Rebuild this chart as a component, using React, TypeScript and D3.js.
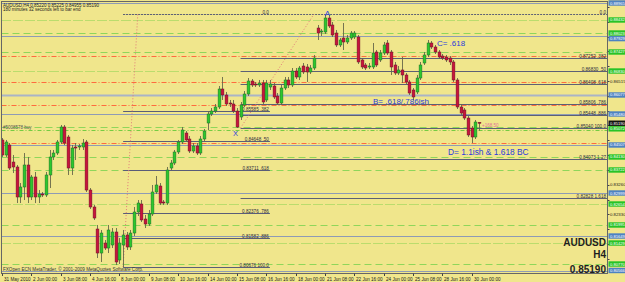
import React from "react";
import * as d3 from "d3";

// ---------- DATA (AUDUSD H4) ----------
const opens = [
  0.84664, 0.84193, 0.84507, 0.83972, 0.83816, 0.82874, 0.83188, 0.83879, 0.82874, 0.83502,
  0.82874, 0.82968, 0.82937, 0.83565, 0.8413, 0.84255, 0.84601, 0.85072, 0.84758, 0.83784,
  0.84444, 0.84444, 0.84444, 0.84601, 0.83093, 0.8256, 0.81869, 0.81115, 0.81429, 0.81272,
  0.81367, 0.81775, 0.80896, 0.81367, 0.81681, 0.81304, 0.81743, 0.82403, 0.82654, 0.82183,
  0.82026, 0.8234, 0.83031, 0.83219, 0.82717, 0.82685, 0.83784, 0.83941, 0.84287, 0.84601,
  0.84883, 0.84695, 0.84318, 0.84475, 0.84255, 0.84695, 0.85197, 0.8548, 0.85574, 0.857,
  0.86265, 0.86077, 0.85825, 0.85794, 0.85574, 0.85386, 0.85763, 0.86108, 0.86516, 0.86422,
  0.86391, 0.86453, 0.8592, 0.86328, 0.86359, 0.86045, 0.85825, 0.86296, 0.86548, 0.86391,
  0.8683, 0.86642, 0.86987, 0.86956, 0.86799, 0.86924, 0.8818, 0.88055, 0.88055, 0.88494,
  0.88275, 0.88023, 0.87647, 0.87866, 0.87741, 0.87866, 0.87898, 0.87898, 0.87176, 0.87019,
  0.86987, 0.86956, 0.87427, 0.87176, 0.87395, 0.87709, 0.87427, 0.87019, 0.86767, 0.86862,
  0.86705, 0.86485, 0.86234, 0.86171, 0.8661, 0.87081, 0.87333, 0.87709, 0.87584, 0.87427,
  0.87301, 0.8727, 0.87238, 0.87113, 0.86548, 0.857, 0.85606, 0.85354, 0.8504, 0.84758,
  0.8522,
];
const highs = [
  0.84726, 0.84664, 0.84569, 0.84193, 0.83879, 0.83313, 0.84255, 0.8413, 0.83565, 0.83659,
  0.83093, 0.83031, 0.83659, 0.8435, 0.8435, 0.84664, 0.85135, 0.85135, 0.84821, 0.84507,
  0.84569, 0.84538, 0.84695, 0.84664, 0.83156, 0.82623, 0.81995, 0.81838, 0.81523, 0.81995,
  0.819, 0.819, 0.81586, 0.81838, 0.81775, 0.81838, 0.8256, 0.82779, 0.82779, 0.82309,
  0.82466, 0.83251, 0.83533, 0.83313, 0.82779, 0.83816, 0.84035, 0.8435, 0.84664, 0.85072,
  0.84946, 0.84789, 0.84569, 0.84569, 0.84789, 0.85009, 0.85574, 0.85668, 0.85794, 0.86359,
  0.86642, 0.86171, 0.8592, 0.8592, 0.85668, 0.85857, 0.86202, 0.8661, 0.86579, 0.86485,
  0.86548, 0.86548, 0.86548, 0.86548, 0.86453, 0.86139, 0.86391, 0.86642, 0.86642, 0.86924,
  0.86924, 0.86987, 0.87081, 0.8705, 0.87019, 0.87333, 0.88275, 0.88149, 0.8862, 0.88589,
  0.88369, 0.88118, 0.87866, 0.88337, 0.87961, 0.88086, 0.88086, 0.87961, 0.87238, 0.87081,
  0.87081, 0.87709, 0.8749, 0.8749, 0.87741, 0.87804, 0.8749, 0.87113, 0.86987, 0.8727,
  0.86767, 0.86548, 0.86296, 0.86705, 0.87113, 0.87427, 0.87804, 0.87772, 0.87647, 0.8749,
  0.87364, 0.87333, 0.87301, 0.87176, 0.8661, 0.85794, 0.85668, 0.85417, 0.85103, 0.85292,
  0.85225,
];
const lows = [
  0.8413, 0.8413, 0.83722, 0.83627, 0.82685, 0.82685, 0.82779, 0.82685, 0.82779, 0.82685,
  0.82685, 0.82874, 0.82874, 0.83156, 0.84035, 0.84193, 0.84538, 0.84507, 0.83565, 0.83565,
  0.84035, 0.8435, 0.8435, 0.83031, 0.82497, 0.82152, 0.80958, 0.80833, 0.8121, 0.81115,
  0.81272, 0.80739, 0.8077, 0.80676, 0.8121, 0.8121, 0.81649, 0.82277, 0.82089, 0.819,
  0.81963, 0.82277, 0.82968, 0.82623, 0.82623, 0.82623, 0.83722, 0.83879, 0.84224, 0.84538,
  0.84601, 0.84255, 0.84255, 0.84193, 0.84193, 0.84632, 0.84978, 0.85417, 0.85511, 0.85637,
  0.8592, 0.85731, 0.857, 0.85511, 0.8504, 0.85292, 0.857, 0.86045, 0.86328, 0.86328,
  0.86328, 0.85794, 0.85857, 0.86234, 0.85951, 0.85763, 0.85763, 0.86234, 0.86296, 0.86328,
  0.86579, 0.86548, 0.86736, 0.86485, 0.86736, 0.86862, 0.87804, 0.87929, 0.87992, 0.8818,
  0.87898, 0.87584, 0.87584, 0.8749, 0.87678, 0.87804, 0.87835, 0.8705, 0.86893, 0.86862,
  0.86893, 0.86893, 0.86956, 0.87113, 0.87333, 0.87333, 0.86705, 0.86705, 0.86705, 0.86453,
  0.86422, 0.86077, 0.8592, 0.86108, 0.86548, 0.87019, 0.8727, 0.87521, 0.87364, 0.87207,
  0.87176, 0.87113, 0.87019, 0.86485, 0.85637, 0.85449, 0.85292, 0.84758, 0.84569, 0.84695,
  0.84955,
];
const closes = [
  0.84193, 0.84601, 0.83784, 0.83816, 0.82874, 0.83188, 0.83879, 0.82874, 0.83502, 0.82874,
  0.82968, 0.82937, 0.83565, 0.8413, 0.84255, 0.84601, 0.85072, 0.84569, 0.83784, 0.84412,
  0.84412, 0.84475, 0.84569, 0.83093, 0.8256, 0.82214, 0.81115, 0.81743, 0.81272, 0.81838,
  0.81775, 0.80833, 0.81429, 0.81681, 0.81304, 0.81743, 0.82403, 0.82685, 0.82152, 0.82026,
  0.8234, 0.83031, 0.83251, 0.82685, 0.82685, 0.83722, 0.83941, 0.84287, 0.84601, 0.84978,
  0.84664, 0.84318, 0.84475, 0.84255, 0.84695, 0.84946, 0.8548, 0.85574, 0.857, 0.86265,
  0.86077, 0.85794, 0.85794, 0.85574, 0.85072, 0.85763, 0.86108, 0.86516, 0.86391, 0.86391,
  0.86453, 0.85857, 0.86453, 0.86422, 0.86014, 0.85825, 0.86296, 0.86548, 0.86391, 0.8683,
  0.86642, 0.86924, 0.86799, 0.86799, 0.86924, 0.87238, 0.88023, 0.88086, 0.88494, 0.88243,
  0.87961, 0.87647, 0.87804, 0.87741, 0.87866, 0.88023, 0.88023, 0.87113, 0.86956, 0.86924,
  0.86987, 0.87395, 0.87019, 0.87395, 0.87647, 0.87395, 0.86956, 0.86767, 0.86862, 0.86705,
  0.86485, 0.86139, 0.86014, 0.8661, 0.87019, 0.87333, 0.87709, 0.87584, 0.87427, 0.8727,
  0.87238, 0.87176, 0.87113, 0.86548, 0.857, 0.85511, 0.85354, 0.84821, 0.84758, 0.85229,
  0.8519,
];

const dateLabels = [
  "31 May 2010", "2 Jun 00:00", "3 Jun 08:00", "4 Jun 16:00", "8 Jun 00:00", "9 Jun 08:00",
  "10 Jun 16:00", "14 Jun 00:00", "15 Jun 08:00", "16 Jun 16:00", "18 Jun 00:00", "21 Jun 08:00",
  "22 Jun 16:00", "24 Jun 00:00", "25 Jun 08:00", "28 Jun 16:00", "30 Jun 00:00",
];
const barsPerDateLabel = 8;

const priceTicks = [
  0.8884, 0.88375, 0.8791, 0.87445, 0.8698, 0.86515, 0.8605, 0.85585, 0.8512,
  0.84655, 0.8419, 0.83725, 0.8326, 0.82795, 0.8233, 0.81865, 0.814, 0.80935,
];

// horizontal level lines (price, kind)
const levelPrices = [
  0.88965, 0.88432, 0.88023, 0.87929, 0.87427, 0.87301, 0.8683, 0.86485, 0.86077, 0.85763,
  0.8548, 0.85072, 0.84978, 0.84569, 0.84507, 0.8413, 0.83722, 0.82999, 0.82654, 0.81995,
  0.81649, 0.81429, 0.8077, 0.80566,
];
const levelKinds = [
  "gray", "dot", "dash", "gray", "dash", "pivot", "dot", "pivot", "grayThick", "pivot",
  "gray", "dash", "order", "pivot", "gray", "dash", "dash", "gray", "dot", "dash",
  "gray", "dot", "dash", "gray",
];

const fibLeftLevels = [0, 0.382, 0.5, 0.618, 0.786, 0.886, 1];
const fibLeftNames = ["0.0", ".382", ".50", ".618", ".786", ".886", "100.0"];
const fibRightLevels = [0, 0.382, 0.5, 0.618, 0.786, 0.886, 1, 1.27, 1.618];
const fibRightNames = ["0.0", ".382", ".50", ".618", ".786", ".886", "100.0", "1.27", "1.618"];
const fibLeftLowBar = 33;
const fibLeftTopBar = 37;
const fibLeftEndBar = 73;
const fibRightLowBar = 64;
const fibRightStartBar = 65;
const fibRightTopBar = 85;

const annotations = [
  { text: "A", bar: 88.7, price: 0.88557, anchor: "middle", size: 8 },
  { text: "X", bar: 63.6, price: 0.84774, anchor: "middle", size: 7.5 },
  { text: "B= .618/.786ish", bar: 101.1, price: 0.85794, anchor: "start", size: 8 },
  { text: "C= .618", bar: 118.5, price: 0.87615, anchor: "start", size: 8 },
  { text: "D= 1.1ish & 1.618 BC", bar: 121.5, price: 0.84193, anchor: "start", size: 8.4 },
];

const headerLine1 = "AUDUSD,H4  0.85220 0.85225 0.84955 0.85190";
const headerLine2 = "180 minutes 32 seconds left to bar end";
const copyright = "FXOpen ECN MetaTrader, © 2001-2009 MetaQuotes Software Corp.";
const orderLabel = "#5008578 buy";
const orderProfit = "+168.50";
const symbolName = "AUDUSD";
const periodName = "H4";
const lastPrice = 0.8519;

// ---------- CHART ----------
const W = 625;
const H = 282;
const FONT = "'Liberation Sans', Arial, sans-serif";
const PL = 1.5, PR = 607.5, PT = 1.5, PB = 273.5;
const BOX_H = 5.4;

const kindStyle: Record<string, { stroke: string; dash?: string; w: number }> = {
  dot: { stroke: "#84d24e", dash: "1 1 1 1 1 1 1 1 1 3", w: 1 },
  dash: { stroke: "#8fd65a", dash: "7 4", w: 1 },
  order: { stroke: "#76cc42", dash: "4 2 1 2", w: 1 },
  pivot: { stroke: "#ff6b3d", dash: "5 2 1 2", w: 1 },
  gray: { stroke: "#8e9bb5", w: 1 },
  grayThick: { stroke: "#aab4c6", w: 2 },
};

export default function App() {
  const n = opens.length;
  const x = d3.scaleLinear().domain([0, n - 1]).range([2, 479.1]);
  const y = d3.scaleLinear().domain([d3.max(highs)!, d3.min(lows)!]).range([14, 267]);

  const A = d3.max(highs)!;
  const leftLow = lows[fibLeftLowBar];
  const rightLow = lows[fibRightLowBar];

  const fmt = (v: number) => v.toFixed(5);

  const boxColor = (k: string) =>
    k === "gray" || k === "grayThick" ? "#4d82c2" : k === "dot" || k === "dash" ? "#27c327" : null;

  // coloured axis boxes, pushed apart so they do not overlap
  const boxes = levelPrices
    .map((p, i) => ({ p, col: boxColor(levelKinds[i]), txt: "#ffffff", yy: y(p) }))
    .filter((b) => b.col !== null) as { p: number; col: string; txt: string; yy: number }[];
  boxes.push({ p: lastPrice, col: "#111111", txt: "#ffffff", yy: y(lastPrice) });
  boxes.sort((a, b) => a.yy - b.yy);
  for (let i = 1; i < boxes.length; i++) {
    if (boxes[i].yy - boxes[i - 1].yy < BOX_H + 0.2) boxes[i].yy = boxes[i - 1].yy + BOX_H + 0.2;
  }
  const visibleTicks = priceTicks.filter((t) => boxes.every((b) => Math.abs(b.yy - y(t)) > 6));

  return (
    <svg
      width={W}
      height={H}
      style={{ position: "absolute", left: 0, top: 0, display: "block" }}
      fontFamily={FONT}
    >
      <defs>
        <clipPath id="plot">
          <rect x={PL} y={PT} width={PR - PL} height={PB - PT} />
        </clipPath>
        <clipPath id="axis">
          <rect x={PR} y={0} width={W - PR} height={H} />
        </clipPath>
      </defs>
      <rect x={0} y={0} width={W} height={H} fill="#f0e68c" />

      <g clipPath="url(#plot)">
        {/* level lines */}
        {levelPrices.map((p, i) => {
          const s = kindStyle[levelKinds[i]];
          const yy = Math.round(y(p)) + 0.5;
          return (
            <line
              key={"lv" + i}
              x1={PL}
              x2={PR}
              y1={yy}
              y2={yy}
              stroke={s.stroke}
              strokeWidth={s.w}
              strokeDasharray={s.dash}
            />
          );
        })}

        {/* left fibonacci */}
        {fibLeftLevels.map((lv, i) => {
          const p = A - lv * (A - leftLow);
          const yy = Math.round(y(p)) + 0.5;
          const x1 = x(fibLeftLowBar);
          const x2 = x(fibLeftEndBar);
          return (
            <g key={"fl" + i}>
              <line x1={x1} x2={x2} y1={yy} y2={yy} stroke="#5a5d78" strokeWidth={1}
                strokeDasharray={lv === 0 ? "2 1" : undefined} />
              <text x={x2 - 1} y={yy - 1} fontSize={4.6} textAnchor="end" fill="#2b2b40">
                {lv === 0 ? fibLeftNames[i] : `${fmt(p)}   ${fibLeftNames[i]}`}
              </text>
            </g>
          );
        })}

        {/* right fibonacci */}
        {fibRightLevels.map((lv, i) => {
          const p = A - lv * (A - rightLow);
          const yy = Math.round(y(p)) + 0.5;
          const x1 = x(fibRightStartBar);
          return (
            <g key={"fr" + i}>
              <line x1={lv === 0 ? x(fibLeftLowBar) : x1} x2={PR} y1={yy} y2={yy}
                stroke="#5d6075" strokeWidth={1} strokeDasharray={lv === 0 ? "2 1" : undefined} />
              <text x={PR - 1.5} y={yy - 1} fontSize={4.6} textAnchor="end" fill="#2b2b40">
                {lv === 0 ? fibRightNames[i] : `${fmt(p)}   ${fibRightNames[i]}`}
              </text>
            </g>
          );
        })}

        {/* fib trend lines */}
        <line x1={x(fibLeftLowBar)} y1={y(leftLow)} x2={x(fibLeftTopBar)} y2={y(A)}
          stroke="#e07a7a" strokeWidth={1} strokeDasharray="1 2" />
        <line x1={x(fibRightStartBar)} y1={y(rightLow)} x2={x(fibRightTopBar)} y2={y(A)}
          stroke="#e07a7a" strokeWidth={1} strokeDasharray="1 2" />

        {/* candles */}
        {opens.map((o, i) => {
          const c = closes[i];
          const cx = Math.round(x(i)) + 0.5;
          const up = c >= o;
          const top = y(Math.max(o, c));
          const bot = y(Math.min(o, c));
          const h = Math.max(1, bot - top);
          return (
            <g key={"c" + i}>
              <line x1={cx} x2={cx} y1={y(highs[i])} y2={y(lows[i])} stroke="#66664a" strokeWidth={0.9} />
              <rect
                x={cx - 1.4}
                y={top}
                width={2.8}
                height={h}
                fill={up ? "#2cc82c" : "#c8143c"}
                stroke={up ? "#1c6e28" : "#6e1026"}
                strokeWidth={0.5}
              />
            </g>
          );
        })}

        {/* order labels */}
        <text x={3} y={y(levelPrices[12]) - 1} fontSize={4.5} fill="#555">{orderLabel}</text>
        <text x={x(n - 1) + 3} y={y(levelPrices[11]) + 0.5} fontSize={4.5} fill="#e0709a">{orderProfit}</text>

        {/* annotations */}
        {annotations.map((a, i) => (
          <text key={"an" + i} x={x(a.bar)} y={y(a.price)} fontSize={a.size}
            textAnchor={a.anchor as any} fill="#2a3cdc">
            {a.text}
          </text>
        ))}

        {/* header */}
        <text x={3} y={6.5} fontSize={4.5} fill="#222">{headerLine1}</text>
        <text x={3} y={11} fontSize={4.5} fill="#222">{headerLine2}</text>
        <text x={3} y={271} fontSize={4.6} fill="#333">{copyright}</text>

        {/* symbol info */}
        <text x={606} y={246} fontSize={10} fontWeight="bold" textAnchor="end" fill="#1e1e1e">{symbolName}</text>
        <text x={606} y={258} fontSize={10} fontWeight="bold" textAnchor="end" fill="#1e1e1e">{periodName}</text>
        <text x={606} y={273} fontSize={10} fontWeight="bold" textAnchor="end" fill="#1e1e1e">{fmt(lastPrice)}</text>
      </g>

      {/* frame */}
      <rect x={PL} y={PT} width={PR - PL} height={PB - PT} fill="none" stroke="#666" strokeWidth={1} />

      {/* right price axis */}
      <g clipPath="url(#axis)">
        {priceTicks.map((t, i) => (
          <line key={"ptl" + i} x1={PR} x2={PR + 2} y1={Math.round(y(t)) + 0.5} y2={Math.round(y(t)) + 0.5} stroke="#444" />
        ))}
        {visibleTicks.map((t, i) => (
          <text key={"pt" + i} x={PR + 2.5} y={y(t) + 1.6} fontSize={4.3} fill="#1a1a1a">{fmt(t)}</text>
        ))}
        {boxes.map((b, i) => (
          <g key={"bx" + i}>
            <rect x={PR + 1} y={b.yy - BOX_H / 2} width={20} height={BOX_H} fill={b.col} />
            <text x={PR + 2.5} y={b.yy + 1.5} fontSize={4.1} fill={b.txt}>{fmt(b.p)}</text>
          </g>
        ))}
      </g>

      {/* bottom time axis */}
      {dateLabels.map((lab, i) => {
        const xx = Math.round(x(i * barsPerDateLabel)) + 0.5;
        return (
          <g key={"dt" + i}>
            <line x1={xx} x2={xx} y1={PB} y2={PB + 2.5} stroke="#444" />
            <text x={xx + 1.5} y={280.5} fontSize={4.6} fill="#1a1a1a">{lab}</text>
          </g>
        );
      })}
    </svg>
  );
}
